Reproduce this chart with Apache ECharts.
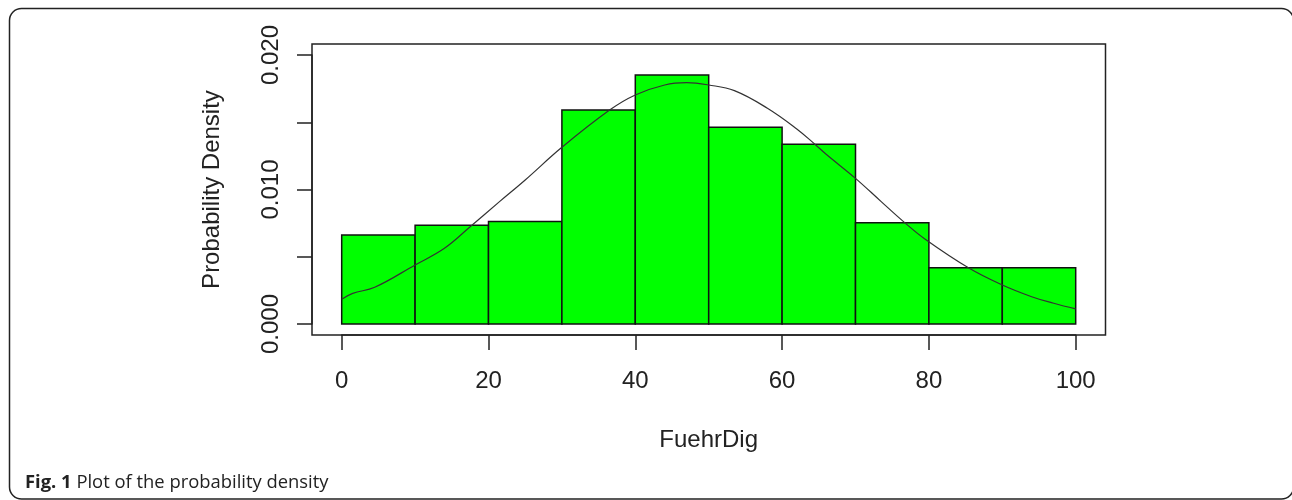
<!DOCTYPE html>
<html>
<head>
<meta charset="utf-8">
<script src="https://cdn.jsdelivr.net/npm/echarts@6/dist/echarts.min.js"></script>
<style>html,body{margin:0;padding:0;background:#fff}#c{width:1292px;height:500px}</style>
</head>
<body>
<div id="c"></div>
<script>
// Histogram bins (FuehrDig) and densities
const binStart = [0, 10, 20, 30, 40, 50, 60, 70, 80, 90];
const binEnd = [10, 20, 30, 40, 50, 60, 70, 80, 90, 100];
const densities = [0.00662, 0.00734, 0.00763, 0.01591, 0.01851, 0.01462, 0.01336, 0.00753, 0.00419, 0.00419];

// Density curve points
const curveX = [0, 1.5, 4.5, 10, 14, 17.5, 21.5, 25, 30, 36.5, 40, 44, 47, 50, 53.5, 58, 62, 64.5, 66, 70, 73.5, 76.5, 79.5, 85.5, 90, 94, 97, 100];
const curveY = [0.00184, 0.00228, 0.00273, 0.00439, 0.00563, 0.00723, 0.0091, 0.01071, 0.01314, 0.01591, 0.01703, 0.01777, 0.01794, 0.01777, 0.01735, 0.01604, 0.0145, 0.01335, 0.01262, 0.01083, 0.0091, 0.00763, 0.0063, 0.00414, 0.0029, 0.00203, 0.00154, 0.00112];

// Tick labels
const xTickValues = [0, 20, 40, 60, 80, 100];
const xTickLabels = ['0', '20', '40', '60', '80', '100'];
const yTickValues = [0, 0.005, 0.01, 0.015, 0.02];
const yTickLabels = ['0.000', '', '0.010', '', '0.020'];

const xName = 'FuehrDig';
const yName = 'Probability Density';
const captionBold = 'Fig. 1';
const captionText = 'Plot of the probability density';

const FONT = 'Liberation Sans, Arial, sans-serif';
const TXT = '#222';

const chart = echarts.init(document.getElementById('c'), null, {renderer: 'canvas'});

function lab(list, vals, v) {
  for (let i = 0; i < vals.length; i++) if (Math.abs(vals[i] - v) < 1e-9) return list[i];
  return '';
}

const option = {
  animation: false,
  backgroundColor: '#fff',
  title: {
    left: 25, top: 474, padding: 0,
    text: '{b|' + captionBold + '} ' + captionText,
    textStyle: {
      fontFamily: 'Open Sans, Noto Sans, sans-serif', fontSize: 18.4, fontWeight: 'normal', color: '#222',
      rich: { b: { fontFamily: 'Open Sans, Noto Sans, sans-serif', fontSize: 18.4, fontWeight: 'bold', color: '#222' } }
    }
  },
  graphic: [{
    type: 'rect', silent: true, z: -1,
    shape: {x: 9.5, y: 8.5, width: 1284, height: 490.5, r: 12},
    style: {fill: 'none', stroke: '#222', lineWidth: 1.5}
  }],
  grid: [
    {left: 341.7, right: 216.3, top: 55, bottom: 176, show: false},
    {left: 312, right: 186.5, top: 44, bottom: 165, show: true, borderColor: '#222', borderWidth: 1.5, backgroundColor: 'transparent'}
  ],
  xAxis: [{
    gridIndex: 0, type: 'value', min: 0, max: 100, interval: 20,
    position: 'bottom', offset: 11,
    name: xName, nameLocation: 'middle', nameGap: 93,
    nameTextStyle: {fontFamily: FONT, fontSize: 24, color: TXT},
    axisLine: {show: true, onZero: false, lineStyle: {color: '#222', width: 1.5}},
    axisTick: {show: true, length: 15, lineStyle: {color: '#222', width: 1.5}},
    axisLabel: {margin: 34, fontFamily: FONT, fontSize: 24, color: TXT,
      formatter: v => lab(xTickLabels, xTickValues, v)},
    splitLine: {show: false}
  }, {
    gridIndex: 1, type: 'value', min: 0, max: 1, show: false
  }],
  yAxis: [{
    gridIndex: 0, type: 'value', min: 0, max: 0.02, interval: 0.005,
    position: 'left', offset: 29.7,
    name: yName, nameLocation: 'middle', nameGap: 88,
    nameTextStyle: {fontFamily: FONT, fontSize: 24, color: TXT},
    axisLine: {show: true, onZero: false, lineStyle: {color: '#222', width: 1.5}},
    axisTick: {show: true, length: 15, lineStyle: {color: '#222', width: 1.5}},
    axisLabel: {rotate: 90, margin: 29, fontFamily: FONT, fontSize: 24, color: TXT,
      formatter: v => lab(yTickLabels, yTickValues, v)},
    splitLine: {show: false}
  }, {
    gridIndex: 1, type: 'value', min: 0, max: 1, show: false
  }],
  series: [{
    type: 'custom',
    xAxisIndex: 0, yAxisIndex: 0,
    data: binStart.map((s, i) => [s, binEnd[i], densities[i]]),
    encode: {x: [0, 1], y: 2},
    renderItem: function (params, api) {
      const p0 = api.coord([api.value(0), api.value(2)]);
      const p1 = api.coord([api.value(1), 0]);
      return {
        type: 'rect',
        shape: {x: p0[0], y: p0[1], width: p1[0] - p0[0], height: p1[1] - p0[1]},
        style: {fill: '#00ff00', stroke: '#111', lineWidth: 1.5}
      };
    },
    z: 2
  }, {
    type: 'line',
    xAxisIndex: 0, yAxisIndex: 0,
    data: curveX.map((x, i) => [x, curveY[i]]),
    showSymbol: false, symbol: 'none',
    smooth: 0.4,
    lineStyle: {color: '#333', width: 1.2},
    z: 3
  }]
};
chart.setOption(option);
</script>
</body>
</html>
